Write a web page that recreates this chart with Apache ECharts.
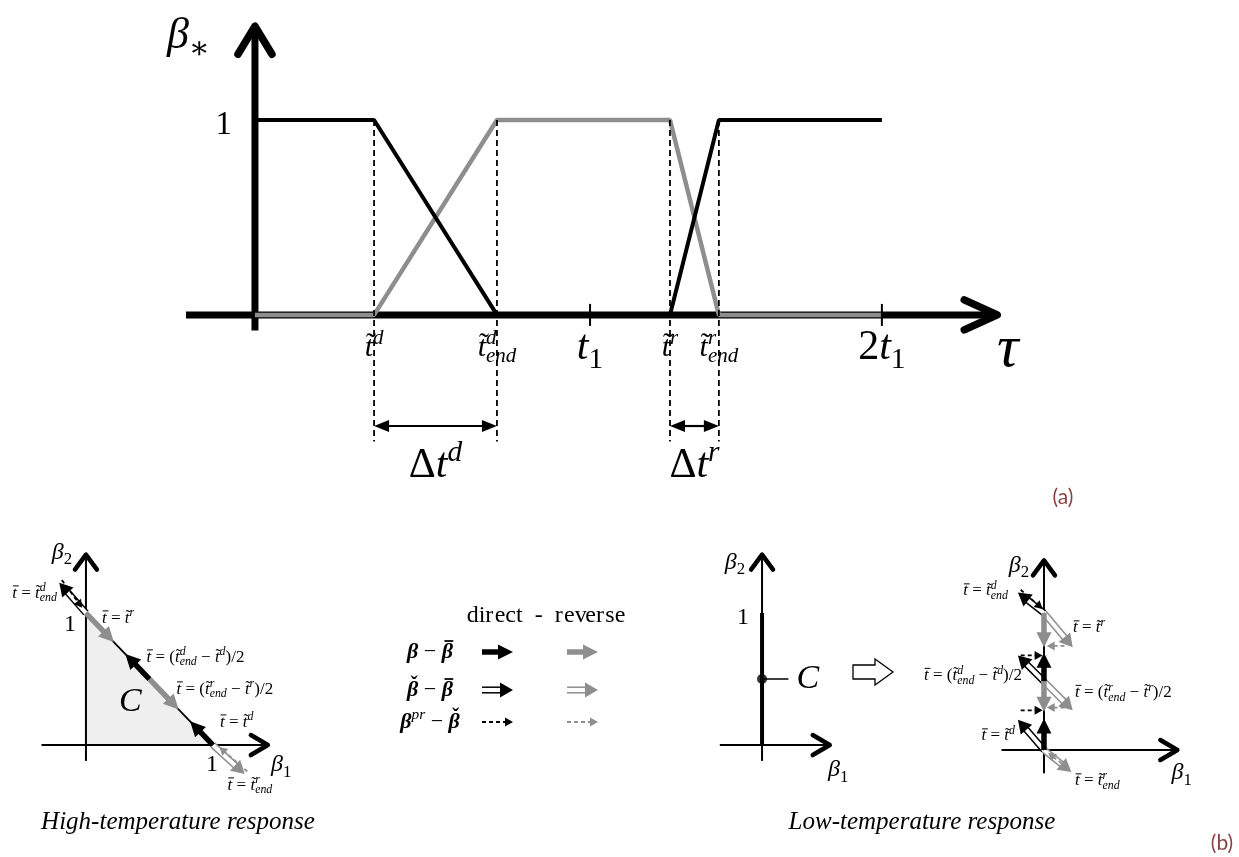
<!DOCTYPE html>
<html>
<head>
<meta charset="utf-8">
<title>Phase fractions β* and response diagrams</title>
<script src="https://cdn.jsdelivr.net/npm/echarts@6/dist/echarts.min.js"></script>
<style>
  html, body { margin: 0; padding: 0; background: #fff; }
  #chart { width: 1239px; height: 857px; }
</style>
</head>
<body>
<div id="chart"></div>
<script>
// ---------------- data ----------------
// (a) phase fractions along the scaled time τ
const tauTickValues = [0.38, 0.772, 1.069, 1.324, 1.48, 2.0];
const tauTickLabels = ['t\u0303^{d}', 't\u0303^{d}_{end}', 't_{1}', 't\u0303^{r}', 't\u0303^{r}_{end}', '2t_{1}'];
const tauGuides = [0.38, 0.772, 1.324, 1.48];
const tauPlainTicks = [1.069, 2.0];
const betaDirect = [[0, 1], [0.38, 1], [0.772, 0], [1.324, 0], [1.48, 1], [2.0, 1]];
const betaReverse = [[0, 0], [0.38, 0], [0.772, 1], [1.324, 1], [1.48, 0], [2.0, 0]];
const spanFrom = [0.38, 1.324];
const spanTo = [0.772, 1.48];
const spanLabels = ['\u0394t^{d}', '\u0394t^{r}'];

// (b) trajectories in the (β1, β2) plane; each step is [from, to]
const stateLabels = ['t\u0304 = t\u0303^{d}_{end}', 't\u0304 = t\u0303^{r}',
  't\u0304 = (t\u0303^{d}_{end} \u2212 t\u0303^{d})/2', 't\u0304 = (t\u0303^{r}_{end} \u2212 t\u0303^{r})/2',
  't\u0304 = t\u0303^{d}', 't\u0304 = t\u0303^{r}_{end}'];

// high temperature: admissible set C is the triangle under β1 + β2 = 1
const highEdge = [[0, 1], [1, 0]];
const highCentroid = [[1 / 3, 1 / 3]];
const highStateAt = [[0, 1], [0, 1], [0.5, 0.5], [0.5, 0.5], [1, 0], [1, 0]];
const highDirectSteps = [[[1, 0], [0.82, 0.18]], [[0.5, 0.5], [0.31, 0.69]]];
const highReverseSteps = [[[0, 1], [0.22, 0.78]], [[0.5, 0.5], [0.73, 0.27]]];
const highDirectTrial = [[[0, 1], [-0.21, 1.23]]];
const highReverseTrial = [[[1, 0], [1.25, -0.22]]];
const highDirectCorr = [[[-0.19, 1.25], [-0.03, 1.04]]];
const highReverseCorr = [[[1.27, -0.2], [1.05, -0.015]]];

// low temperature: admissible set C is the segment β1 = 0, 0 ≤ β2 ≤ 1
const lowSet = [[0, 0], [0, 1]];
const lowSetPoint = [[0, 0.5]];
const lowSetTag = [[0, 0.5], [0.2, 0.5]];
const lowStateAt = [[0, 1], [0, 1], [0, 0.5], [0, 0.5], [0, 0], [0, 0]];
const lowDirectSteps = [[[0, 0], [0, 0.23]], [[0, 0.5], [0, 0.71]]];
const lowReverseSteps = [[[0, 1], [0, 0.75]], [[0, 0.5], [0, 0.28]]];
const lowDirectTrial = [[[0, 1], [-0.19, 1.15]], [[0, 0.5], [-0.19, 0.69]], [[0, 0], [-0.19, 0.22]]];
const lowReverseTrial = [[[0, 1], [0.21, 0.75]], [[0, 0.5], [0.21, 0.29]], [[0, 0], [0.2, -0.16]]];
const lowDirectCorr = [[[-0.17, 1.17], [-0.01, 1.03]], [[-0.17, 0.69], [-0.01, 0.69]], [[-0.17, 0.29], [-0.01, 0.29]]];
const lowReverseCorr = [[[0.15, 0.76], [0.02, 0.76]], [[0.15, 0.31], [0.02, 0.31]], [[0.17, -0.13], [0.03, -0.02]]];

// legend
const legendHeader = 'direct  -  reverse';
const legendRows = ['\u03b2 \u2212 \u03b2\u0304', '\u03b2\u030c \u2212 \u03b2\u0304', '\u03b2^{pr} \u2212 \u03b2\u030c'];
const legendKinds = ['step', 'trial', 'corr'];

// ---------------- drawing helpers ----------------
const BLACK = '#000';
const GRAY = '#8e8e8e';
const SERIF = '"Liberation Serif", "DejaVu Serif", serif';
const mctx = document.createElement('canvas').getContext('2d');

// split "a^{b}_{c}" into base runs with attached scripts
function parseMath(src) {
  const pieces = [];
  let cur = { base: '', sup: '', sub: '' };
  let i = 0;
  while (i < src.length) {
    const ch = src[i];
    if (ch === '^' || ch === '_') {
      let arg;
      if (src[i + 1] === '{') { const j = src.indexOf('}', i + 2); arg = src.slice(i + 2, j); i = j + 1; }
      else { arg = src[i + 1]; i += 2; }
      if (ch === '^') cur.sup = arg; else cur.sub = arg;
      continue;
    }
    if (cur.sup || cur.sub) { pieces.push(cur); cur = { base: '', sup: '', sub: '' }; }
    cur.base += ch;
    i++;
  }
  pieces.push(cur);
  return pieces;
}
// characters with their combining accent, if any
function clustersOf(text) {
  const cl = [];
  for (const ch of text) {
    if (/[\u0300-\u036f]/.test(ch) && cl.length) cl[cl.length - 1].acc = ch;
    else cl.push({ ch, acc: '' });
  }
  return cl;
}
const ACCENT = { '\u0303': '\u02dc', '\u030c': '\u02c7' };
function fontOf(style, weight, fs) { return style + ' ' + weight + ' ' + fs + 'px ' + SERIF; }

// letters italic, digits and operators upright; accents drawn separately
function mathText(src, x, y, size, opt) {
  opt = opt || {};
  const fill = opt.color || BLACK;
  const ss = size * 0.7;
  const out = [];
  const bars = [];
  let cx = 0;
  const put = (text, fs, dy) => {
    for (const c of clustersOf(text)) {
      const it = /[A-Za-z\u03b1-\u03c9]/.test(c.ch);
      const gr = /[\u03b1-\u03c9]/.test(c.ch);
      const style = it ? 'italic' : 'normal';
      const weight = (opt.bold && gr) ? 'bold' : 'normal';
      mctx.font = fontOf(style, weight, fs);
      const w = mctx.measureText(c.ch).width;
      out.push({ text: c.ch, x: cx, dy, fs, style, weight });
      const mid = cx + w / 2 + (it ? 0.07 * fs : 0);
      if (c.acc === '\u0304') {
        const half = (gr ? 0.2 : 0.17) * fs;
        const yy = dy - (gr ? 0.5 : 0.42) * fs;
        bars.push({ x1: mid - half, x2: mid + half, y: yy, w: Math.max(1, (opt.bold ? 0.08 : 0.055) * fs) });
      } else if (c.acc) {
        const a = ACCENT[c.acc];
        mctx.font = fontOf('normal', weight, fs);
        const aw = mctx.measureText(a).width;
        const lift = c.ch === 't' ? 0.1 : (gr ? 0.2 : 0.05);
        out.push({ text: a, x: mid - aw / 2, dy: dy - lift * fs, fs, style: 'normal', weight });
      }
      cx += w;
    }
  };
  for (const p of parseMath(src)) {
    put(p.base, size, 0);
    if (p.sup || p.sub) {
      const x0 = cx;
      let w1 = 0, w2 = 0;
      if (p.sup) { put(p.sup, ss, -0.3 * size); w1 = cx - x0; cx = x0; }
      if (p.sub) { put(p.sub, ss, 0.3 * size); w2 = cx - x0; cx = x0; }
      cx = x0 + Math.max(w1, w2);
    }
  }
  const shift = x + (opt.align === 'right' ? -cx : (opt.align === 'left' ? 0 : -cx / 2));
  const els = out.map(o => ({
    type: 'text', silent: true, x: shift + o.x, y: y + o.dy,
    style: { text: o.text, fill, fontSize: o.fs, fontFamily: SERIF, fontStyle: opt.upright ? 'normal' : o.style,
      fontWeight: o.weight, align: 'left', verticalAlign: 'middle' }
  }));
  bars.forEach(b => els.push(seg([shift + b.x1, y + b.y], [shift + b.x2, y + b.y], { stroke: fill, lineWidth: b.w })));
  return els;
}

function unitVec(p0, p1) {
  const dx = p1[0] - p0[0], dy = p1[1] - p0[1];
  const L = Math.hypot(dx, dy) || 1;
  return [dx / L, dy / L];
}
function headPts(tip, d, len, hw) {
  const bx = tip[0] - d[0] * len, by = tip[1] - d[1] * len;
  return [[tip[0], tip[1]], [bx - d[1] * hw, by + d[0] * hw], [bx + d[1] * hw, by - d[0] * hw]];
}
function seg(a, b, style) {
  return { type: 'line', silent: true, shape: { x1: a[0], y1: a[1], x2: b[0], y2: b[1] }, style };
}
function tri(pts, fill) {
  return { type: 'polygon', silent: true, shape: { points: pts }, style: { fill } };
}
function chevron(tip, d, back, spread, w) {
  const b = [tip[0] - d[0] * back, tip[1] - d[1] * back];
  return {
    type: 'polyline', silent: true,
    shape: { points: [[b[0] - d[1] * spread, b[1] + d[0] * spread], tip, [b[0] + d[1] * spread, b[1] - d[0] * spread]] },
    style: { stroke: BLACK, lineWidth: w, lineCap: 'round', lineJoin: 'round', fill: null }
  };
}
// β − β̄ : thick arrow
function stepArrow(p0, p1, color) {
  const d = unitVec(p0, p1), len = 15, hw = 7.5;
  const b = [p1[0] - d[0] * len * 0.8, p1[1] - d[1] * len * 0.8];
  return [seg(p0, b, { stroke: color, lineWidth: 5.5 }), tri(headPts(p1, d, len, hw), color)];
}
// β̌ − β̄ : double-stroke arrow
function trialArrow(p0, p1, color) {
  const d = unitVec(p0, p1), len = 13, hw = 7.5, off = 2.8;
  const b = [p1[0] - d[0] * len * 0.7, p1[1] - d[1] * len * 0.7];
  const n = [-d[1] * off, d[0] * off];
  const st = { stroke: color, lineWidth: 1.5 };
  return [
    seg(p0, b, { stroke: '#fff', lineWidth: 2 * off }),
    seg([p0[0] + n[0], p0[1] + n[1]], [b[0] + n[0], b[1] + n[1]], st),
    seg([p0[0] - n[0], p0[1] - n[1]], [b[0] - n[0], b[1] - n[1]], st),
    tri(headPts(p1, d, len, hw), color)
  ];
}
// β^pr − β̌ : dashed arrow
function corrArrow(p0, p1, color) {
  const d = unitVec(p0, p1), len = 8, hw = 4.5;
  const b = [p1[0] - d[0] * len * 0.8, p1[1] - d[1] * len * 0.8];
  return [seg(p0, b, { stroke: color, lineWidth: 1.8, lineDash: [4, 3] }), tri(headPts(p1, d, len, hw), color)];
}
const ARROWS = { step: stepArrow, trial: trialArrow, corr: corrArrow };

function custom(g, z, data, renderItem) {
  return { type: 'custom', coordinateSystem: 'cartesian2d', xAxisIndex: g, yAxisIndex: g,
    silent: true, clip: false, z, data, renderItem };
}
function arrowSeries(g, steps, kind, color, z) {
  return custom(g, z, steps.map(s => [s[0][0], s[0][1], s[1][0], s[1][1]]), (params, api) => ({
    type: 'group',
    children: ARROWS[kind](api.coord([api.value(0), api.value(1)]), api.coord([api.value(2), api.value(3)]), color)
  }));
}
function labelSeries(g, anchors, texts, layout, size) {
  return custom(g, 6, anchors.map((a, i) => [a[0], a[1], i]), (params, api) => {
    const i = api.value(2);
    const p = api.coord([api.value(0), api.value(1)]);
    const L = layout[i];
    return { type: 'group', children: mathText(texts[i], p[0] + L[0], p[1] + L[1], size, { align: L[2] }) };
  });
}

// axis arrows and axis titles for each grid
const axisLook = [
  { w: 7, chev: 7.5, xBack: 33, xSpread: 15, yBack: 28, ySpread: 17 },
  { w: 2, chev: 4.5, xBack: 17, xSpread: 10, yBack: 15, ySpread: 11 },
  { w: 2, chev: 4.5, xBack: 17, xSpread: 10, yBack: 15, ySpread: 11 },
  { w: 2, chev: 4.5, xBack: 17, xSpread: 10, yBack: 15, ySpread: 11 }
];
const axisTitles = [
  [{ t: '\u03b2_{\u2217}', at: 'y', dx: -88, dy: 14, size: 44, align: 'left' },
   { t: '\u03c4', at: 'x', dx: -4, dy: 35, size: 60, align: 'left' },
   { t: '1', at: [0, 1], dx: -23, dy: 5, size: 33, align: 'right' }],
  [{ t: '\u03b2_{2}', at: 'y', dx: -24, dy: 0, size: 24 },
   { t: '\u03b2_{1}', at: 'x', dx: 1, dy: 20, size: 24, align: 'left' },
   { t: '1', at: [0, 1], dx: -16, dy: 12, size: 24 },
   { t: '1', at: [1, 0], dx: -1, dy: 20, size: 24 }],
  [{ t: '\u03b2_{2}', at: 'y', dx: -27, dy: 10, size: 24 },
   { t: '\u03b2_{1}', at: 'x', dx: -4, dy: 25, size: 24, align: 'left' },
   { t: '1', at: [0, 1], dx: -19, dy: 5, size: 24 }],
  [{ t: '\u03b2_{2}', at: 'y', dx: -25, dy: 7, size: 24 },
   { t: '\u03b2_{1}', at: 'x', dx: -8, dy: 23, size: 24, align: 'left' }]
];
function axesSeries(g) {
  return custom(g, 2, [[0, 0]], (params, api) => {
    const cs = params.coordSys, o = api.coord([0, 0]), L = axisLook[g];
    const xr = cs.x + cs.width, yt = cs.y;
    const kids = [
      seg([cs.x, o[1]], [xr - L.chev, o[1]], { stroke: BLACK, lineWidth: L.w }),
      seg([o[0], cs.y + cs.height], [o[0], yt + L.chev], { stroke: BLACK, lineWidth: L.w }),
      chevron([xr - L.chev / 2, o[1]], [1, 0], L.xBack, L.xSpread, L.chev),
      chevron([o[0], yt + L.chev / 2], [0, -1], L.yBack, L.ySpread, L.chev)
    ];
    for (const T of axisTitles[g]) {
      const a = T.at === 'x' ? [xr, o[1]] : (T.at === 'y' ? [o[0], yt] : api.coord(T.at));
      kids.push(...mathText(T.t, a[0] + T.dx, a[1] + T.dy, T.size, { align: T.align }));
    }
    return { type: 'group', children: kids };
  });
}

// ---------------- series ----------------
const series = [];

// (a)
series.push(axesSeries(0));
series.push({ type: 'line', xAxisIndex: 0, yAxisIndex: 0, data: betaReverse, symbol: 'none', silent: true, z: 3,
  lineStyle: { color: GRAY, width: 4.5, cap: 'butt' } });
series.push({ type: 'line', xAxisIndex: 0, yAxisIndex: 0, data: betaDirect, symbol: 'none', silent: true, z: 4,
  lineStyle: { color: BLACK, width: 4, cap: 'butt' } });
series.push(custom(0, 5, tauGuides.map(t => [t]), (params, api) => {
  const t = api.value(0);
  return seg(api.coord([t, 1]), api.coord([t, -0.65]), { stroke: BLACK, lineWidth: 1.8, lineDash: [6, 4] });
}));
series.push(custom(0, 5, tauPlainTicks.map(t => [t]), (params, api) => {
  const p = api.coord([api.value(0), 0]);
  return seg([p[0], p[1] - 11], [p[0], p[1] + 11], { stroke: BLACK, lineWidth: 2 });
}));
series.push(custom(0, 6, tauTickValues.map((t, i) => [t, i]), (params, api) => {
  const i = api.value(1);
  const p = api.coord([api.value(0), 0]);
  const big = tauTickLabels[i].indexOf('\u0303') < 0;
  return { type: 'group', children: mathText(tauTickLabels[i], p[0], p[1] + 33, big ? 42 : 30) };
}));
series.push(custom(0, 6, spanFrom.map((t, i) => [t, spanTo[i], i]), (params, api) => {
  const i = api.value(2);
  const a = api.coord([api.value(0), -0.57]), b = api.coord([api.value(1), -0.57]);
  const m = api.coord([(api.value(0) + api.value(1)) / 2, -0.775]);
  const d = unitVec(a, b), len = 15, hw = 6;
  return { type: 'group', children: [
    seg([a[0] + d[0] * len * 0.8, a[1]], [b[0] - d[0] * len * 0.8, b[1]], { stroke: BLACK, lineWidth: 2.2 }),
    tri(headPts(b, d, len, hw), BLACK),
    tri(headPts(a, [-d[0], -d[1]], len, hw), BLACK),
    ...mathText(spanLabels[i], m[0], m[1], 42)
  ] };
}));

// (b) high temperature
series.push({ type: 'line', xAxisIndex: 1, yAxisIndex: 1, data: highEdge, symbol: 'none', silent: true, z: 1,
  lineStyle: { width: 0 }, areaStyle: { color: '#efefef', opacity: 1 } });
series.push(axesSeries(1));
series.push({ type: 'line', xAxisIndex: 1, yAxisIndex: 1, data: highEdge, symbol: 'none', silent: true, z: 3,
  lineStyle: { color: BLACK, width: 1.8 } });
series.push(arrowSeries(1, highDirectTrial, 'trial', BLACK, 4));
series.push(arrowSeries(1, highReverseTrial, 'trial', GRAY, 4));
series.push(arrowSeries(1, highDirectSteps, 'step', BLACK, 5));
series.push(arrowSeries(1, highReverseSteps, 'step', GRAY, 5));
series.push(arrowSeries(1, highDirectCorr, 'corr', BLACK, 5));
series.push(arrowSeries(1, highReverseCorr, 'corr', GRAY, 5));
series.push(labelSeries(1, highStateAt, stateLabels,
  [[-29, -20, 'right'], [16, 5, 'left'], [-3, -22, 'left'], [27, 10, 'left'], [7, -23, 'left'], [37, 40, 'center']], 17));
series.push(labelSeries(1, highCentroid, ['C'], [[2, 1, 'center']], 34));

// (b) low temperature, admissible set
series.push(axesSeries(2));
series.push({ type: 'line', xAxisIndex: 2, yAxisIndex: 2, data: lowSet, symbol: 'none', silent: true, z: 3,
  lineStyle: { color: BLACK, width: 4 } });
series.push({ type: 'line', xAxisIndex: 2, yAxisIndex: 2, data: lowSetTag, symbol: 'none', silent: true, z: 3,
  lineStyle: { color: BLACK, width: 1.6 } });
series.push({ type: 'scatter', xAxisIndex: 2, yAxisIndex: 2, data: lowSetPoint, symbol: 'circle', symbolSize: 10,
  silent: true, z: 4, itemStyle: { color: BLACK } });
series.push(labelSeries(2, [lowSetTag[1]], ['C'], [[8, 0, 'left']], 34));

// (b) low temperature, trajectories
series.push(axesSeries(3));
series.push(arrowSeries(3, lowDirectTrial, 'trial', BLACK, 3));
series.push(arrowSeries(3, lowReverseTrial, 'trial', GRAY, 3));
series.push(arrowSeries(3, lowDirectSteps, 'step', BLACK, 4));
series.push(arrowSeries(3, lowReverseSteps, 'step', GRAY, 4));
series.push(arrowSeries(3, lowDirectCorr, 'corr', BLACK, 5));
series.push(arrowSeries(3, lowReverseCorr, 'corr', GRAY, 5));
series.push(labelSeries(3, lowStateAt, stateLabels,
  [[-36, -22, 'right'], [29, 15, 'left'], [-22, -6, 'right'], [31, 11, 'left'], [-29, -14, 'right'], [31, 31, 'left']], 17));

// ---------------- legend, captions, panel tags ----------------
const graphics = [];
graphics.push(...mathText(legendHeader.replace(/ /g, '\u00a0'), 546, 616, 24, { upright: true }));
const rowY = [652, 690, 722];
legendRows.forEach((r, i) => {
  graphics.push(...mathText(r, 430, rowY[i], 22, { bold: true }));
  graphics.push(...ARROWS[legendKinds[i]]([482, rowY[i]], [513, rowY[i]], BLACK));
  graphics.push(...ARROWS[legendKinds[i]]([567, rowY[i]], [598, rowY[i]], GRAY));
});
// hollow arrow between the two low-temperature sketches
graphics.push({ type: 'polygon', silent: true,
  shape: { points: [[853, 665], [875, 665], [875, 659], [893, 672], [875, 685], [875, 679], [853, 679]] },
  style: { fill: '#fff', stroke: BLACK, lineWidth: 1.3 } });
const captions = [['High-temperature response', 178, 822], ['Low-temperature response', 922, 822]];
captions.forEach(c => graphics.push({ type: 'text', silent: true, x: c[1], y: c[2],
  style: { text: c[0], fill: BLACK, fontSize: 25, fontFamily: SERIF, fontStyle: 'italic', align: 'center', verticalAlign: 'middle' } }));
[['(a)', 1063, 497], ['(b)', 1222, 843]].forEach(c => graphics.push({ type: 'text', silent: true, x: c[1], y: c[2],
  style: { text: c[0], fill: '#8b4444', fontSize: 21, fontFamily: 'Lato, "Open Sans", sans-serif', align: 'center', verticalAlign: 'middle' } }));

const grids = [
  { left: 186, top: 22.5, width: 815, height: 308 },
  { left: 41.5, top: 552.3, width: 228.6, height: 208.6 },
  { left: 719.8, top: 552.3, width: 112.2, height: 208.6 },
  { left: 1001.5, top: 558.2, width: 178.1, height: 215.1 }
];
const xRanges = [[-0.22, 2.38], [-0.35, 1.45], [-0.32, 0.53], [-0.31, 0.99]];
const yRanges = [[-0.08, 1.5], [-0.12, 1.46], [-0.12, 1.46], [-0.17, 1.4]];

const option = {
  animation: false,
  backgroundColor: '#fff',
  grid: grids.map(g => Object.assign({ show: false, containLabel: false, outerBoundsMode: 'none' }, g)),
  xAxis: xRanges.map((r, i) => ({ type: 'value', gridIndex: i, min: r[0], max: r[1], show: false })),
  yAxis: yRanges.map((r, i) => ({ type: 'value', gridIndex: i, min: r[0], max: r[1], show: false })),
  series,
  graphic: { elements: graphics }
};

const chart = echarts.init(document.getElementById('chart'), null, { renderer: 'canvas' });
chart.setOption(option);
</script>
</body>
</html>
